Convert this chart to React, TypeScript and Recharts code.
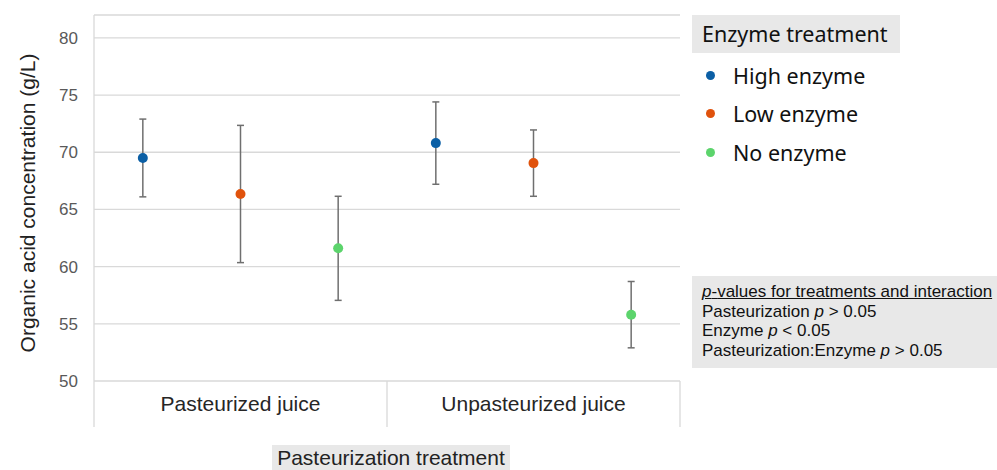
import React from 'react';
import { ComposedChart, Scatter, ErrorBar, XAxis, YAxis, CartesianGrid, Legend } from 'recharts';

// categories
const pasteurization = ['Pasteurized juice', 'Unpasteurized juice'];
const enzymes = ['High enzyme', 'Low enzyme', 'No enzyme'];
const enzymeColors = ['#0b5fa5', '#e0520c', '#5cd46c'];

// means (g/L), one value per pasteurization group
const meanHigh = [69.5, 70.8];
const meanLow = [66.35, 69.05];
const meanNone = [61.6, 55.8];

// error bar half-lengths
const errHigh = [3.4, 3.6];
const errLow = [6.0, 2.9];
const errNone = [4.55, 2.9];

const yTicks = [50, 55, 60, 65, 70, 75, 80];

const pValueTitle = 'values for treatments and interaction';
const pValueLines = [
  { label: 'Pasteurization', sign: '>', value: '0.05' },
  { label: 'Enzyme', sign: '<', value: '0.05' },
  { label: 'Pasteurization:Enzyme', sign: '>', value: '0.05' },
];

const means = [meanHigh, meanLow, meanNone];
const errs = [errHigh, errLow, errNone];
const slots = enzymes.length;

// one small dataset per enzyme level, x = slot position inside the group
const seriesData = enzymes.map((_, j) =>
  pasteurization.map((group, i) => ({
    group,
    x: i * slots + j + 0.5,
    y: means[j][i],
    err: errs[j][i],
  }))
);

const groupTicks = [0, 1.5, 3, 4.5, 6];
const BAND = 46;

const GroupTick = ({ x, y, payload }: any) => {
  const v = payload.value;
  if (v % slots === 0) {
    return <line x1={x} x2={x} y1={y} y2={y + BAND} stroke="#d9d9d9" strokeWidth={1.3} />;
  }
  return (
    <text x={x} y={y + 30} textAnchor="middle" fontSize={21} fill="#262626" fontFamily="'Liberation Sans', Arial, sans-serif">
      {pasteurization[Math.floor(v / slots)]}
    </text>
  );
};

const YTitle = ({ viewBox }: any) => {
  const cx = viewBox.x + 27;
  const cy = viewBox.y + viewBox.height / 2 + 5;
  return (
    <text
      x={cx}
      y={cy}
      transform={`rotate(-90 ${cx} ${cy})`}
      textAnchor="middle"
      dominantBaseline="central"
      fontSize={21}
      fill="#222"
      fontFamily="'Liberation Sans', Arial, sans-serif"
    >
      Organic acid concentration (g/L)
    </text>
  );
};

const EnzymeLegend = ({ payload }: any) => (
  <div style={{ fontFamily: "'Noto Sans', sans-serif", color: '#111' }}>
    <div style={{ background: '#e8e8e8', width: 208, height: 38, lineHeight: '38px', fontSize: 21.5, paddingLeft: 10, boxSizing: 'border-box' }}>
      Enzyme treatment
    </div>
    <div style={{ height: 3 }} />
    {(payload || []).map((entry: any) => (
      <div key={entry.value} style={{ height: 38.5, display: 'flex', alignItems: 'center', fontSize: 21.5 }}>
        <span style={{ display: 'inline-block', width: 9, height: 9, borderRadius: '50%', background: entry.color, marginLeft: 13.5, marginRight: 18.5 }} />
        <span>{entry.value}</span>
      </div>
    ))}
  </div>
);

const Dot = (props: any) => <circle cx={props.cx} cy={props.cy} r={5} fill={props.fill} />;

export default function App() {
  return (
    <div style={{ position: 'relative', width: 997, height: 470, background: '#fff', overflow: 'hidden' }}>
      <style>{'body{margin:0}'}</style>
      <ComposedChart width={997} height={470} margin={{ top: 15, right: 317, left: 0, bottom: 43 }}>
        <CartesianGrid vertical={false} stroke="#d9d9d9" strokeWidth={1.3} />
        <XAxis
          type="number"
          dataKey="x"
          domain={[0, slots * pasteurization.length]}
          ticks={groupTicks}
          interval={0}
          axisLine={false}
          tickLine={false}
          tickSize={0}
          tickMargin={0}
          height={BAND}
          tick={<GroupTick />}
        />
        <YAxis
          type="number"
          dataKey="y"
          domain={[50, 82]}
          ticks={yTicks}
          width={94}
          axisLine={{ stroke: '#d9d9d9', strokeWidth: 1.3 }}
          tickLine={false}
          tickMargin={10}
          tick={{ fontSize: 17, fill: '#595959', fontFamily: "'Liberation Sans', Arial, sans-serif" }}
          label={<YTitle />}
        />
        <Legend
          layout="horizontal"
          verticalAlign="middle"
          content={<EnzymeLegend />}
          wrapperStyle={{ position: 'absolute', left: 692, top: 15, width: 220 }}
        />
        {enzymes.map((name, j) => (
          <Scatter
            key={name}
            name={name}
            data={seriesData[j]}
            fill={enzymeColors[j]}
            shape={<Dot />}
            isAnimationActive={false}
          >
            <ErrorBar dataKey="err" direction="y" width={3.5} stroke="#6f6f6f" strokeWidth={1.5} />
          </Scatter>
        ))}
      </ComposedChart>

      <div
        style={{
          position: 'absolute', left: 692, top: 276, width: 305, height: 92, background: '#e8e8e8',
          fontFamily: "'Liberation Sans', Arial, sans-serif", fontSize: 17, lineHeight: '19.5px', color: '#111',
          paddingLeft: 10, paddingTop: 6, boxSizing: 'border-box', whiteSpace: 'nowrap',
        }}
      >
        <div style={{ textDecoration: 'underline' }}><i>p</i>-{pValueTitle}</div>
        {pValueLines.map((l) => (
          <div key={l.label}>{l.label} <i>p</i> {l.sign} {l.value}</div>
        ))}
      </div>

      <div
        style={{
          position: 'absolute', left: 272, top: 445, width: 238, height: 26, background: '#e8e8e8',
          fontFamily: "'Liberation Sans', Arial, sans-serif", fontSize: 21, lineHeight: '26px', color: '#222',
          textAlign: 'center', whiteSpace: 'nowrap',
        }}
      >
        Pasteurization treatment
      </div>
    </div>
  );
}
